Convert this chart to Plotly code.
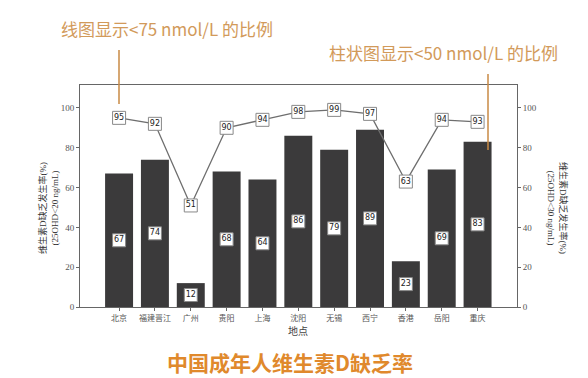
import plotly.graph_objects as go

cities = ["北京", "福建晋江", "广州", "贵阳", "上海", "沈阳", "无锡", "西宁", "香港", "岳阳", "重庆"]
bar_vals = [67, 74, 12, 68, 64, 86, 79, 89, 23, 69, 83]
line_vals = [95, 92, 51, 90, 94, 98, 99, 97, 63, 94, 93]
y_ticks = [0, 20, 40, 60, 80, 100]

serif = "Liberation Serif, Noto Sans CJK SC"
orange = "#d29a5a"
x_idx = list(range(len(cities)))

fig = go.Figure()
fig.add_trace(go.Bar(x=x_idx, y=bar_vals, width=0.78, marker=dict(color="#3b3a3b", line=dict(width=0)),
                     showlegend=False, hoverinfo="skip"))
fig.add_trace(go.Scatter(x=x_idx, y=[v / 2 for v in bar_vals], mode="markers+text",
                         text=[str(v) for v in bar_vals], textposition="middle center",
                         textfont=dict(size=8, color="#222", family="DejaVu Sans"),
                         marker=dict(symbol="square", size=13, color="white", line=dict(color="#888", width=1)),
                         showlegend=False, hoverinfo="skip"))
fig.add_trace(go.Scatter(x=x_idx, y=line_vals, mode="lines+markers+text", yaxis="y2",
                         text=[str(v) for v in line_vals], textposition="middle center",
                         textfont=dict(size=8, color="#222", family="DejaVu Sans"),
                         line=dict(color="#6e6e6e", width=1.3),
                         marker=dict(symbol="square", size=13, color="white", line=dict(color="#888", width=1)),
                         showlegend=False, hoverinfo="skip"))

axis_font = dict(family=serif, size=9, color="#555")
fig.update_layout(
    width=588, height=378,
    margin=dict(l=72, r=79, t=77, b=79),
    paper_bgcolor="white", plot_bgcolor="white",
    xaxis=dict(range=[-1.09, 11.1], tickmode="array", tickvals=x_idx, ticktext=cities,
               showline=True, linecolor="#666", linewidth=1, mirror=True,
               ticks="outside", ticklen=3, tickcolor="#666", showgrid=False, zeroline=False,
               tickfont=dict(family=serif, size=8, color="#555")),
    yaxis=dict(range=[0, 111.5], tickmode="array", tickvals=y_ticks, showline=True, linecolor="#666",
               linewidth=1, ticks="outside", ticklen=3, tickcolor="#666", showgrid=False, zeroline=False,
               tickfont=axis_font),
    yaxis2=dict(range=[0, 111.5], overlaying="y", side="right", tickmode="array", tickvals=y_ticks,
                showline=True, linecolor="#666", linewidth=1, ticks="outside", ticklen=3, tickcolor="#666",
                showgrid=False, zeroline=False, tickfont=axis_font),
    font=dict(family="Noto Sans CJK SC"),
)


def px_x(x):
    return (x - 72) / (588 - 72 - 79)


def px_y(y):
    return (378 - 79 - y) / (378 - 77 - 79)


anns = [
    dict(text="线图显示<75 nmol/L 的比例", x=159, y=21, font=dict(size=17, color=orange)),
    dict(text="柱状图显示<50 nmol/L 的比例", x=435, y=45, font=dict(size=17, color=orange)),
    dict(text="<b>中国成年人维生素D缺乏率</b>", x=282, y=354, font=dict(size=21, color="#e0892c")),
    dict(text="地点", x=290, y=322, font=dict(size=10, color="#444")),
    dict(text="维生素D缺乏发生率(%)<br>(25OHD<20 ng/mL)", x=40, y=200, textangle=-90,
         font=dict(size=9, color="#333", family=serif)),
    dict(text="维生素D缺乏发生率(%)<br>(25OHD<30 ng/mL)", x=550, y=200, textangle=90,
         font=dict(size=9, color="#333", family=serif)),
]
for a in anns:
    fig.add_annotation(xref="paper", yref="paper", x=px_x(a["x"]), y=px_y(a["y"]), text=a["text"],
                       showarrow=False, font=a["font"], textangle=a.get("textangle", 0),
                       xanchor="center", yanchor="middle")

fig.add_shape(type="line", xref="paper", yref="paper", x0=px_x(111), x1=px_x(111), y0=px_y(42), y1=px_y(96),
              line=dict(color="#c98a45", width=1.5))
fig.add_shape(type="line", xref="paper", yref="paper", x0=px_x(480), x1=px_x(480), y0=px_y(66), y1=px_y(142),
              line=dict(color="#c98a45", width=1.5))

fig.write_html("out.html")
